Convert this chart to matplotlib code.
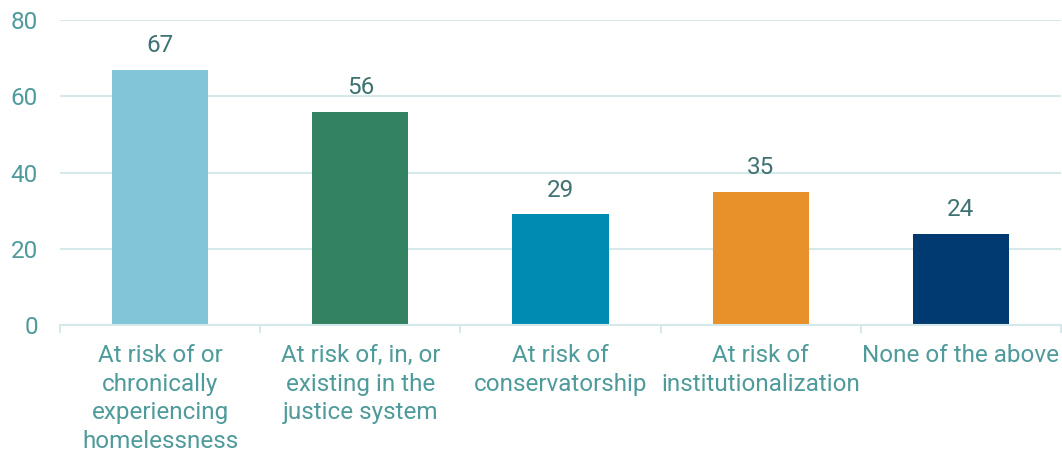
import matplotlib
matplotlib.use("Agg")
import matplotlib.pyplot as plt

categories = [
    "At risk of or\nchronically\nexperiencing\nhomelessness",
    "At risk of, in, or\nexisting in the\njustice system",
    "At risk of\nconservatorship",
    "At risk of\ninstitutionalization",
    "None of the above",
]
values = [67, 56, 29, 35, 24]
colors = ["#82c4d8", "#338262", "#008cb2", "#e8902a", "#003a70"]

plt.rcParams['font.family'] = ['Roboto', 'DejaVu Sans']

label_col = "#4f9a9a"
value_col = "#3f7373"
line_col = "#d5e9ea"
fs = 17.5

fig = plt.figure(figsize=(10.62, 4.58), dpi=100)
ax = fig.add_axes([60 / 1062, 1 - 325 / 458, 1001 / 1062, 305 / 458])

x = range(len(categories))
bars = ax.bar(x, values, width=0.48, color=colors, zorder=3)

for b, v in zip(bars, values):
    ax.annotate(str(v), (b.get_x() + b.get_width() / 2, b.get_height()),
                xytext=(0, 9), textcoords="offset points",
                ha="center", va="bottom", fontsize=fs, color=value_col)

ax.set_xlim(-0.5, len(categories) - 0.5)
ax.set_ylim(0, 80)
ax.set_yticks([0, 20, 40, 60, 80])
ax.set_xticks(list(x))
ax.set_xticklabels(categories, fontsize=fs, color=label_col, linespacing=1.3)
ax.set_xticks([i - 0.5 for i in range(len(categories) + 1)], minor=True)
ax.tick_params(axis="x", which="major", length=0, pad=14)
ax.tick_params(axis="x", which="minor", length=6, width=1.5, color=line_col)
ax.tick_params(axis="y", length=0, pad=16, labelsize=fs, labelcolor=label_col)

ax.grid(axis="y", color=line_col, linewidth=1.5, zorder=0)
for s in ["top", "right", "left"]:
    ax.spines[s].set_visible(False)
ax.spines["bottom"].set_color(line_col)
ax.spines["bottom"].set_linewidth(1.5)
ax.spines["bottom"].set_zorder(4)

fig.savefig("out.png", dpi=100)
